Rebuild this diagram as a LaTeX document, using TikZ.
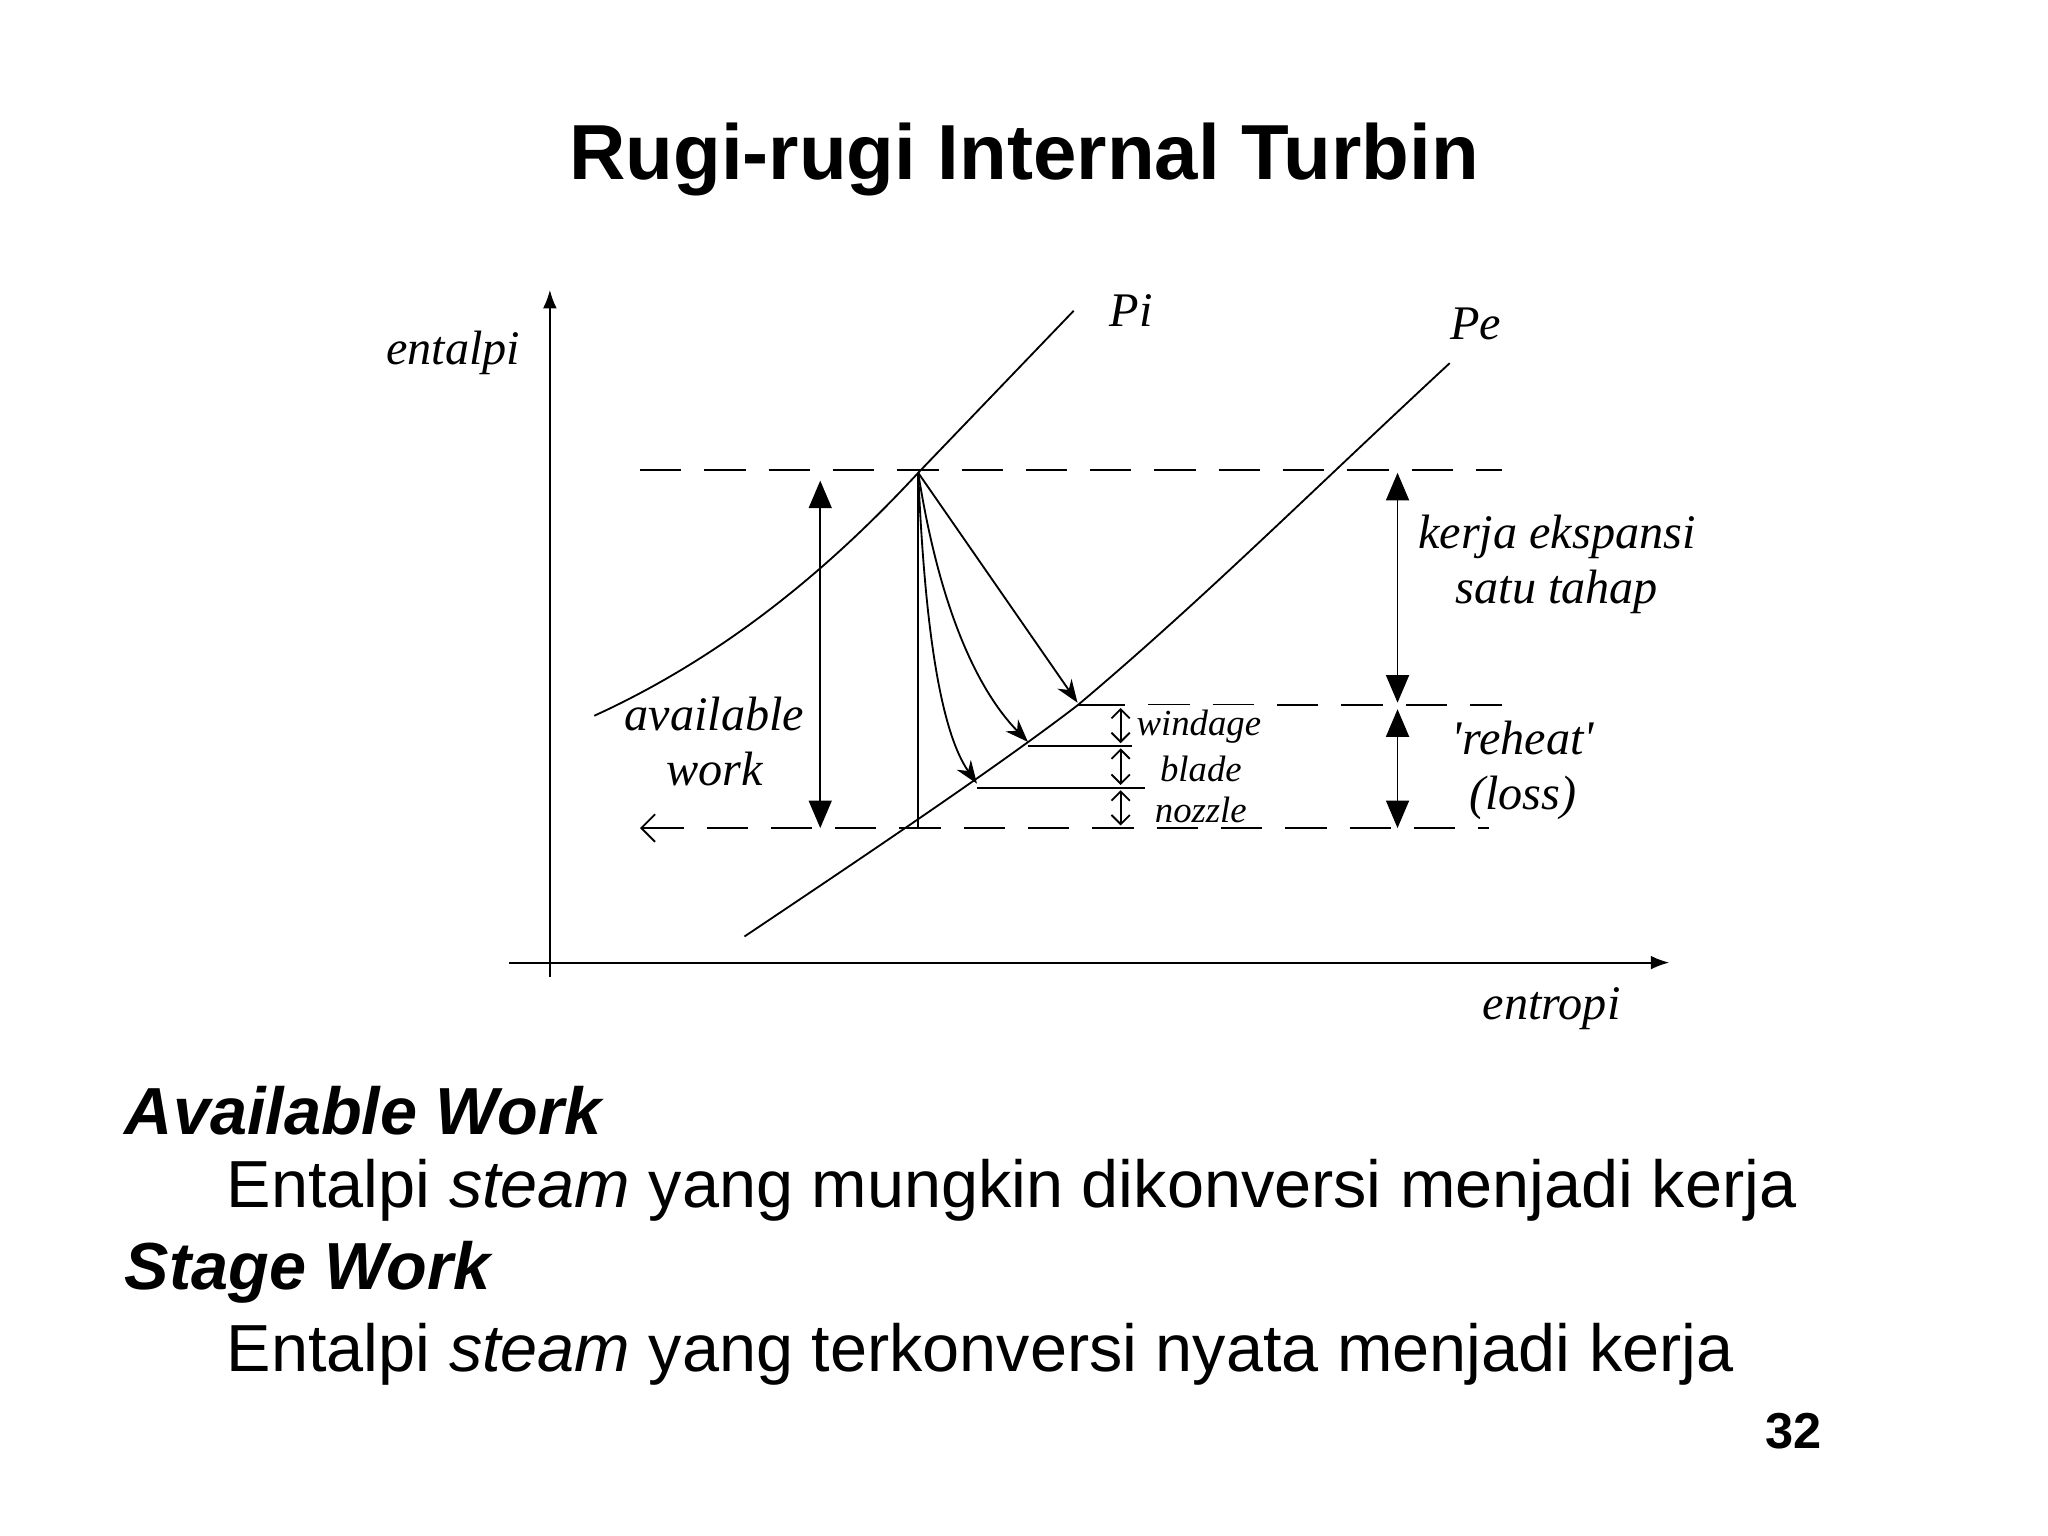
\documentclass[tikz,border=0pt]{standalone}
\usepackage{fontspec}
\setmainfont{Liberation Sans}
\newfontfamily\lbl{Liberation Serif}
\usetikzlibrary{arrows.meta}
\begin{document}
\begin{tikzpicture}[x=0.01cm,y=-0.01cm,
  lab/.style={font=\lbl\itshape\fontsize{10.5}{12}\selectfont},
  small/.style={font=\lbl\itshape\fontsize{8}{9}\selectfont},
  dline/.style={dash pattern=on 9pt off 5pt},
  big/.style={{Triangle[length=6pt,width=5pt]}-{Triangle[length=6pt,width=5pt]}},
  tiny/.style={{Straight Barb[length=2pt]}-{Straight Barb[length=2pt]}}]
\useasboundingbox (0,0) rectangle (1568,1176);
\node (title) at (784,122) {\fontsize{17}{20}\selectfont\bfseries Rugi-rugi Internal Turbin};
% axes
\draw[-{Latex[length=4pt]}] (421,748) -- (421,222);
\draw[-{Latex[length=4pt]}] (390,737) -- (1278,737);
\node[lab] (en) at (347,270) {entalpi};
\node[lab] (ent) at (1188,772) {entropi};
% curves
\draw (455,548) .. controls (560,500) and (640,430) .. (703,362) -- (822,238);
\draw (570,717) .. controls (640,670) and (760,590) .. (825,540) .. controls (920,460) and (1000,380) .. (1110,278);
\node[lab] (pi) at (866,238) {Pi};
\node[lab] (pe) at (1130,248) {Pe};
% dashed
\draw[dline] (490,360) -- (1150,360);
\draw[dline] (830,540) -- (1150,540);
\draw[dline,{Straight Barb[length=3pt]}-] (490,634) -- (1140,634);
% process
\coordinate (A) at (703,362);
\coordinate (B) at (825,538);
\coordinate (C) at (787,568);
\coordinate (D) at (748,600);
\draw (A) -- (703,634);
\draw[-{Stealth[length=5pt]}] (A) -- (B);
\draw[-{Stealth[length=5pt]}] (A) .. controls (720,470) and (750,530) .. (C);
\draw[-{Stealth[length=5pt]}] (A) .. controls (708,480) and (720,560) .. (D);
\draw (825,540) -- (860,540);
\draw (787,571) -- (877,571);
\draw (748,603) -- (877,603);
\draw[tiny] (858,542) -- (858,569);
\draw[tiny] (858,573) -- (858,601);
\draw[tiny] (858,605) -- (858,632);
\node[small,anchor=west,fill=white,inner sep=1pt] (w) at (866,556) {windage};
\node[small,anchor=west,fill=white,inner sep=1pt] (b) at (884,589) {blade};
\node[small,anchor=west,fill=white,inner sep=1pt] (n) at (880,620) {nozzle};
% big arrows
\draw[big] (628,368) -- (628,634);
\draw[big] (1070,362) -- (1070,538);
\draw[big] (1070,543) -- (1070,634);
\node[lab,align=center] (aw) at (547,568) {available\\work};
\node[lab,align=center] (ke) at (1192,432) {kerja ekspansi\\satu tahap};
\node[lab,align=center] (rh) at (1166,590) {'reheat'\\(loss)};
% text
\node[anchor=west,inner sep=0pt,font=\fontsize{14.5}{18}\selectfont\bfseries\itshape] (t1) at (95,850) {Available Work};
\node[anchor=west,inner sep=0pt,font=\fontsize{14.5}{18}\selectfont] (t2) at (173,911) {Entalpi \textit{steam} yang mungkin dikonversi menjadi kerja};
\node[anchor=west,inner sep=0pt,font=\fontsize{14.5}{18}\selectfont\bfseries\itshape] (t3) at (95,974) {Stage Work};
\node[anchor=west,inner sep=0pt,font=\fontsize{14.5}{18}\selectfont] (t4) at (173,1037) {Entalpi \textit{steam} yang terkonversi nyata menjadi kerja};
\node[font=\fontsize{11}{13}\selectfont\bfseries] (pg) at (1373,1096) {32};
\end{tikzpicture}
\end{document}
